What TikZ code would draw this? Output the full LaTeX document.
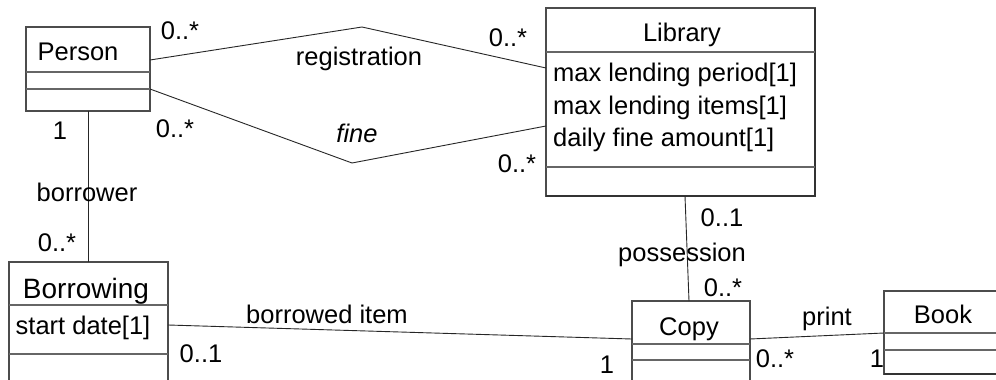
\documentclass[tikz,border=0pt]{standalone}
\usepackage{fontspec}
\setmainfont{Liberation Sans}
\begin{document}
\begin{tikzpicture}[x=1pt,y=-1pt,
  cls/.style={draw=black!70, line width=1.1pt, fill=white, anchor=north west,
              inner sep=0pt, outer sep=0pt},
  sep/.style={draw=black!60, line width=1.1pt},
  edge/.style={draw=black!80, line width=1.6pt},
  assoc/.style={draw=black!85, line width=0.9pt},
  lbl/.style={font=\fontsize{25.5}{30}\selectfont, inner sep=0pt,
              text height=18.3pt, text depth=0pt},
  big/.style={lbl, font=\fontsize{28}{32}\selectfont, text height=20pt},
]
\clip (0,0) rectangle (996,380);
\fill[white] (0,0) rectangle (996,380);

% class boxes
\node[cls, minimum width=124pt, minimum height=84pt]  (person)    at (26,27)  {};
\node[cls, minimum width=269pt, minimum height=188pt] (library)   at (546,8)  {};
\node[cls, minimum width=159pt, minimum height=150pt] (borrowing) at (9,262)  {};
\node[cls, minimum width=118pt, minimum height=120pt] (copy)      at (632,301) {};
\node[cls, minimum width=140pt, minimum height=83pt]  (book)      at (884,291) {};

% heavier lower/right edges
\draw[edge] (library.south west) -- (library.south east) -- (library.north east);
\draw[edge] (book.south west) -- (book.south east);

% compartment separators
\draw[sep] (person.west |- 0,72)  -- (person.east |- 0,72);
\draw[sep] (person.west |- 0,89)  -- (person.east |- 0,89);
\draw[sep] (library.west |- 0,52) -- (library.east |- 0,52);
\draw[sep] (library.west |- 0,167) -- (library.east |- 0,167);
\draw[sep] (borrowing.west |- 0,305) -- (borrowing.east |- 0,305);
\draw[sep] (borrowing.west |- 0,354) -- (borrowing.east |- 0,354);
\draw[sep] (copy.west |- 0,344) -- (copy.east |- 0,344);
\draw[sep] (copy.west |- 0,360) -- (copy.east |- 0,360);
\draw[sep] (book.west |- 0,333) -- (book.east |- 0,333);
\draw[sep] (book.west |- 0,350) -- (book.east |- 0,350);

% class names and attributes
\node[lbl] (personT)  at (78,51.5)  {Person};
\node[lbl] (libraryT) at (682,32)   {Library};
\node[lbl, anchor=west] (attr1) at (553,72.5)  {max lending period[1]};
\node[lbl, anchor=west] (attr2) at (553,105)   {max lending items[1]};
\node[lbl, anchor=west] (attr3) at (553,137.5) {daily fine amount[1]};
\node[big] (borrowingT) at (86,288)  {Borrowing};
\node[lbl] (startdate)  at (83,325.5) {start date[1]};
\node[lbl] (copyT) at (689,326) {Copy};
\node[lbl] (bookT) at (943,314.5) {Book};

% associations
\coordinate (regbend)  at (362,27);
\coordinate (finebend) at (352,163);
\draw[assoc] (person.east |- 0,60) -- (regbend) -- (library.west |- 0,68);
\draw[assoc] (person.east |- 0,89) -- (finebend) -- (library.west |- 0,126);
\draw[assoc] (person.south -| 88,0) -- (borrowing.north -| 88,0);
\draw[assoc] (borrowing.east |- 0,325) -- (copy.west |- 0,339);
\draw[assoc] (library.south -| 685,0) -- (copy.north -| 689,0);
\draw[assoc] (copy.east |- 0,339) -- (book.west |- 0,333);

% association names and multiplicities
\node[lbl] (regL)    at (359,56)  {registration};
\node[lbl] (fineL)   at (357,133) {\itshape fine};
\node[lbl] (m1)      at (180,30)  {0..*};
\node[lbl] (m2)      at (508,37)  {0..*};
\node[lbl] (m3)      at (175,128) {0..*};
\node[lbl] (m4)      at (517,163) {0..*};
\node[lbl] (m5)      at (60,130)  {1};
\node[lbl] (borrowerL) at (87,192) {borrower};
\node[lbl] (m6)      at (57,242)  {0..*};
\node[lbl] (itemL)   at (327,314) {borrowed item};
\node[lbl] (m7)      at (201,353) {0..1};
\node[lbl] (m8)      at (607,364) {1};
\node[lbl] (m9)      at (722,217) {0..1};
\node[lbl] (possL)   at (682,252) {possession};
\node[lbl] (m10)     at (723,287) {0..*};
\node[lbl] (printL)  at (827,316) {print};
\node[lbl] (m11)     at (775,358) {0..*};
\node[lbl] (m12)     at (877,358) {1};
\end{tikzpicture}
\end{document}
